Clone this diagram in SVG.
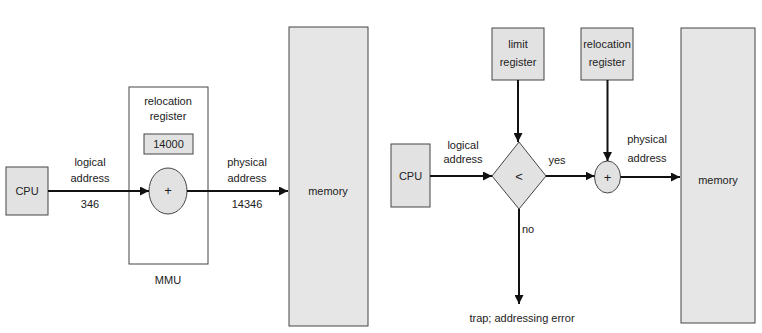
<svg xmlns="http://www.w3.org/2000/svg" width="762" height="333" viewBox="0 0 762 333">
<style>
.box{fill:#e2e2e2;stroke:#444;stroke-width:1}
.mem{fill:#e6e6e6;stroke:#444;stroke-width:1}
.frame{fill:#fff;stroke:#444;stroke-width:1}
.t{font-family:"Liberation Sans",Arial,sans-serif;font-size:11px;fill:#222;text-anchor:middle}
.op{font-size:13px}
.c{stroke:#111;stroke-width:2;fill:none}
</style>
<defs>
<marker id="ah" viewBox="0 0 10 10" refX="10" refY="5" markerWidth="4.5" markerHeight="4.5" orient="auto" markerUnits="strokeWidth">
<path d="M0,0 L10,5 L0,10 z" fill="#111"/>
</marker>
</defs>
<rect width="762" height="333" fill="#fff"/>

<!-- Left diagram -->
<g id="mmu">
<rect class="frame" x="129" y="87" width="79" height="177"/>
<text class="t" x="168" y="284">MMU</text>
</g>
<g id="reloc-label">
<text class="t" x="168" y="105">relocation</text>
<text class="t" x="168" y="120">register</text>
</g>
<g id="reloc-value">
<rect class="box" x="144" y="134" width="49" height="20"/>
<text class="t" x="168.5" y="148">14000</text>
</g>
<g id="cpu1">
<rect class="box" x="6" y="167" width="42" height="48"/>
<text class="t" x="27" y="195">CPU</text>
</g>
<g id="adder1">
<ellipse class="box" cx="168" cy="191" rx="19" ry="23"/>
<text class="t op" x="168" y="195">+</text>
</g>
<g id="memory1">
<rect class="mem" x="289" y="27" width="79" height="299"/>
<text class="t" x="328" y="195">memory</text>
</g>

<!-- Right diagram -->
<g id="limit">
<rect class="box" x="492" y="28" width="52" height="52"/>
<text class="t" x="518" y="48">limit</text>
<text class="t" x="518" y="66">register</text>
</g>
<g id="reloc2">
<rect class="box" x="581" y="28" width="52" height="52"/>
<text class="t" x="607" y="48">relocation</text>
<text class="t" x="607" y="66">register</text>
</g>
<g id="cpu2">
<rect class="box" x="391" y="144" width="39" height="63"/>
<text class="t" x="410.5" y="180">CPU</text>
</g>
<g id="compare">
<polygon class="box" points="519,142 546,176 519,209 492,176"/>
<text class="t op" x="519" y="181">&lt;</text>
</g>
<g id="adder2">
<ellipse class="box" cx="607.5" cy="177" rx="13" ry="16"/>
<text class="t op" x="607.5" y="181.5">+</text>
</g>
<g id="memory2">
<rect class="mem" x="681" y="28" width="74" height="295"/>
<text class="t" x="718" y="184">memory</text>
</g>

<g id="connectors">
<line class="c" x1="48" y1="191" x2="149" y2="191" marker-end="url(#ah)"/>
<line class="c" x1="187" y1="191" x2="288" y2="191" marker-end="url(#ah)"/>
<line class="c" x1="430" y1="176" x2="492" y2="176" marker-end="url(#ah)"/>
<line class="c" x1="546" y1="176" x2="594.5" y2="176" marker-end="url(#ah)"/>
<line class="c" x1="620.5" y1="177" x2="680" y2="177" marker-end="url(#ah)"/>
<line class="c" x1="518" y1="80" x2="518" y2="142" marker-end="url(#ah)"/>
<line class="c" x1="607.5" y1="80" x2="607.5" y2="161" marker-end="url(#ah)"/>
<line class="c" x1="519" y1="209" x2="519" y2="304" marker-end="url(#ah)"/>
</g>

<g id="labels">
<text class="t" x="90" y="166">logical</text>
<text class="t" x="90" y="182">address</text>
<text class="t" x="90" y="208">346</text>
<text class="t" x="247" y="166">physical</text>
<text class="t" x="247" y="182">address</text>
<text class="t" x="247" y="208">14346</text>
<text class="t" x="463" y="149">logical</text>
<text class="t" x="463" y="163">address</text>
<text class="t" x="557" y="164">yes</text>
<text class="t" x="647" y="143">physical</text>
<text class="t" x="647" y="162">address</text>
<text class="t" x="528" y="233">no</text>
<text class="t" x="522" y="322">trap; addressing error</text>
</g>
</svg>
